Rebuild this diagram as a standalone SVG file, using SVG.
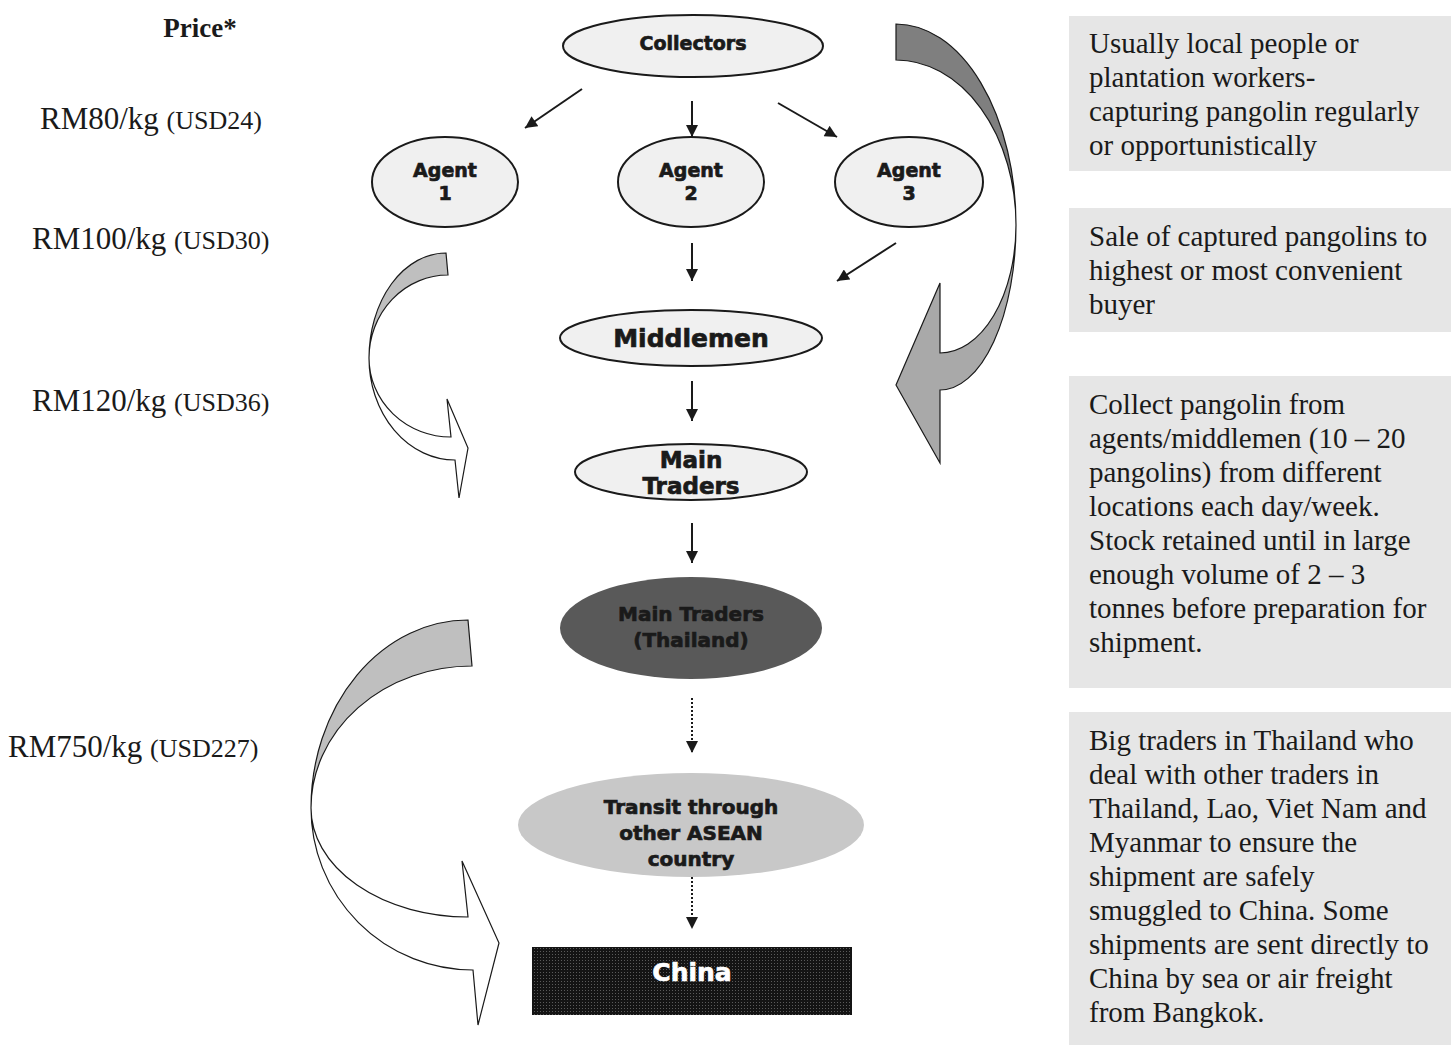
<svg xmlns="http://www.w3.org/2000/svg" width="1451" height="1045" viewBox="0 0 1451 1045">
<style>
.node{fill:#f0f0f0;stroke:#1a1a1a;stroke-width:2}
.nt{font-family:"DejaVu Sans","Liberation Sans",Arial,sans-serif;font-weight:bold;fill:#1a1a1a;stroke:#1a1a1a;stroke-width:0.7;text-anchor:middle}
.price{font-family:"Liberation Serif","Times New Roman",serif;fill:#1a1a1a}
.desc{font-family:"Liberation Serif","Times New Roman",serif;font-size:29px;fill:#1a1a1a}
.box{fill:#e6e6e6}
.conn{stroke:#1a1a1a;stroke-width:2;fill:none;marker-end:url(#ah)}
.dot{stroke-dasharray:2,2}
.curve{stroke:#1a1a1a;stroke-width:1.2}
</style>
<defs>
<marker id="ah" viewBox="0 0 10 10" refX="10" refY="5" markerWidth="13" markerHeight="12" orient="auto" markerUnits="userSpaceOnUse"><path d="M0,0 L10,5 L0,10 z" fill="#1a1a1a"/></marker>
<pattern id="dots" width="3" height="3" patternUnits="userSpaceOnUse"><rect width="3" height="3" fill="#141414"/><rect width="1" height="1" fill="#5a5a5a"/></pattern>
</defs>
<rect width="1451" height="1045" fill="#ffffff"/>

<g id="prices">
<text class="price" x="200" y="37" font-size="27" font-weight="bold" text-anchor="middle">Price*</text>
<text class="price" x="40" y="129" font-size="31">RM80/kg <tspan font-size="26">(USD24)</tspan></text>
<text class="price" x="32" y="249" font-size="31">RM100/kg <tspan font-size="26">(USD30)</tspan></text>
<text class="price" x="32" y="411" font-size="31">RM120/kg <tspan font-size="26">(USD36)</tspan></text>
<text class="price" x="8" y="757" font-size="31">RM750/kg <tspan font-size="26">(USD227)</tspan></text>
</g>

<g id="descriptions">
<rect class="box" x="1069" y="16" width="382" height="155"/>
<text class="desc" x="1089" y="53"><tspan x="1089">Usually local people or</tspan><tspan x="1089" dy="34">plantation workers-</tspan><tspan x="1089" dy="34">capturing pangolin regularly</tspan><tspan x="1089" dy="34">or opportunistically</tspan></text>
<rect class="box" x="1069" y="208" width="382" height="124"/>
<text class="desc" x="1089" y="246"><tspan x="1089">Sale of captured pangolins to</tspan><tspan x="1089" dy="34">highest or most convenient</tspan><tspan x="1089" dy="34">buyer</tspan></text>
<rect class="box" x="1069" y="376" width="382" height="312"/>
<text class="desc" x="1089" y="414"><tspan x="1089">Collect pangolin from</tspan><tspan x="1089" dy="34">agents/middlemen (10 – 20</tspan><tspan x="1089" dy="34">pangolins) from different</tspan><tspan x="1089" dy="34">locations each day/week.</tspan><tspan x="1089" dy="34">Stock retained until in large</tspan><tspan x="1089" dy="34">enough volume of 2 – 3</tspan><tspan x="1089" dy="34">tonnes before preparation for</tspan><tspan x="1089" dy="34">shipment.</tspan></text>
<rect class="box" x="1069" y="712" width="382" height="333"/>
<text class="desc" x="1089" y="750"><tspan x="1089">Big traders in Thailand who</tspan><tspan x="1089" dy="34">deal with other traders in</tspan><tspan x="1089" dy="34">Thailand, Lao, Viet Nam and</tspan><tspan x="1089" dy="34">Myanmar to ensure the</tspan><tspan x="1089" dy="34">shipment are safely</tspan><tspan x="1089" dy="34">smuggled to China. Some</tspan><tspan x="1089" dy="34">shipments are sent directly to</tspan><tspan x="1089" dy="34">China by sea or air freight</tspan><tspan x="1089" dy="34">from Bangkok.</tspan></text>
</g>

<g id="curved-arrows">
<path class="curve" fill="#7f7f7f" d="M896,24 A120,201 0 0 1 1016,225 A120,165 0 0 0 896,60 Z"/>
<path class="curve" fill="#a9a9a9" d="M1016,225 A76,165 0 0 1 940,390 L940,463 L896,385 L940,283 L940,353 A76,128 0 0 0 1016,225 Z"/>
<path class="curve" fill="#bfbfbf" d="M446,253 A77,105 0 0 0 369,358 A79,83 0 0 1 448,275 Z"/>
<path class="curve" fill="#ffffff" d="M369,358 A86,102 0 0 0 455,460 L459,498 L468,448 L447,399 L451,437 A82,79 0 0 1 369,358 Z"/>
<path class="curve" fill="#bfbfbf" d="M468,620 A157,188 0 0 0 311,808 A161,142 0 0 1 472,666 Z"/>
<path class="curve" fill="#ffffff" d="M311,808 A162,162 0 0 0 473,970 L478,1025 L499,943 L462,861 L468,917 A157,109 0 0 1 311,808 Z"/>
</g>

<g id="connectors">
<line class="conn" x1="582" y1="89" x2="525" y2="128"/>
<line class="conn" x1="692" y1="101" x2="692" y2="137"/>
<line class="conn" x1="778" y1="103" x2="837" y2="137"/>
<line class="conn" x1="692" y1="243" x2="692" y2="281"/>
<line class="conn" x1="896" y1="243" x2="837" y2="281"/>
<line class="conn" x1="692" y1="381" x2="692" y2="421"/>
<line class="conn" x1="692" y1="523" x2="692" y2="563"/>
<line class="conn dot" x1="692" y1="698" x2="692" y2="753"/>
<line class="conn dot" x1="692" y1="877" x2="692" y2="929"/>
</g>

<g id="collectors">
<ellipse class="node" cx="693" cy="46" rx="130" ry="31"/>
<text class="nt" x="693" y="50" font-size="19">Collectors</text>
</g>
<g id="agent1">
<ellipse class="node" cx="445" cy="182" rx="73" ry="45"/>
<text class="nt" x="445" y="177" font-size="19">Agent</text>
<text class="nt" x="445" y="200" font-size="19">1</text>
</g>
<g id="agent2">
<ellipse class="node" cx="691" cy="182" rx="73" ry="45"/>
<text class="nt" x="691" y="177" font-size="19">Agent</text>
<text class="nt" x="691" y="200" font-size="19">2</text>
</g>
<g id="agent3">
<ellipse class="node" cx="909" cy="182" rx="74" ry="45"/>
<text class="nt" x="909" y="177" font-size="19">Agent</text>
<text class="nt" x="909" y="200" font-size="19">3</text>
</g>
<g id="middlemen">
<ellipse class="node" cx="691" cy="338" rx="131" ry="28"/>
<text class="nt" x="691" y="347" font-size="25">Middlemen</text>
</g>
<g id="main-traders">
<ellipse class="node" cx="691" cy="472" rx="116" ry="28"/>
<text class="nt" x="691" y="468" font-size="23">Main</text>
<text class="nt" x="691" y="494" font-size="23">Traders</text>
</g>
<g id="main-traders-thailand">
<ellipse cx="691" cy="628" rx="131" ry="51" fill="#595959"/>
<text class="nt" x="691" y="621" font-size="20">Main Traders</text>
<text class="nt" x="691" y="647" font-size="20">(Thailand)</text>
</g>
<g id="transit">
<ellipse cx="691" cy="825" rx="173" ry="52" fill="#c8c8c8"/>
<text class="nt" x="691" y="814" font-size="20">Transit through</text>
<text class="nt" x="691" y="840" font-size="20">other ASEAN</text>
<text class="nt" x="691" y="866" font-size="20">country</text>
</g>
<g id="china">
<rect x="532" y="947" width="320" height="68" fill="url(#dots)"/>
<text class="nt" x="692" y="981" font-size="25" style="fill:#ffffff;stroke:#ffffff">China</text>
</g>
</svg>
